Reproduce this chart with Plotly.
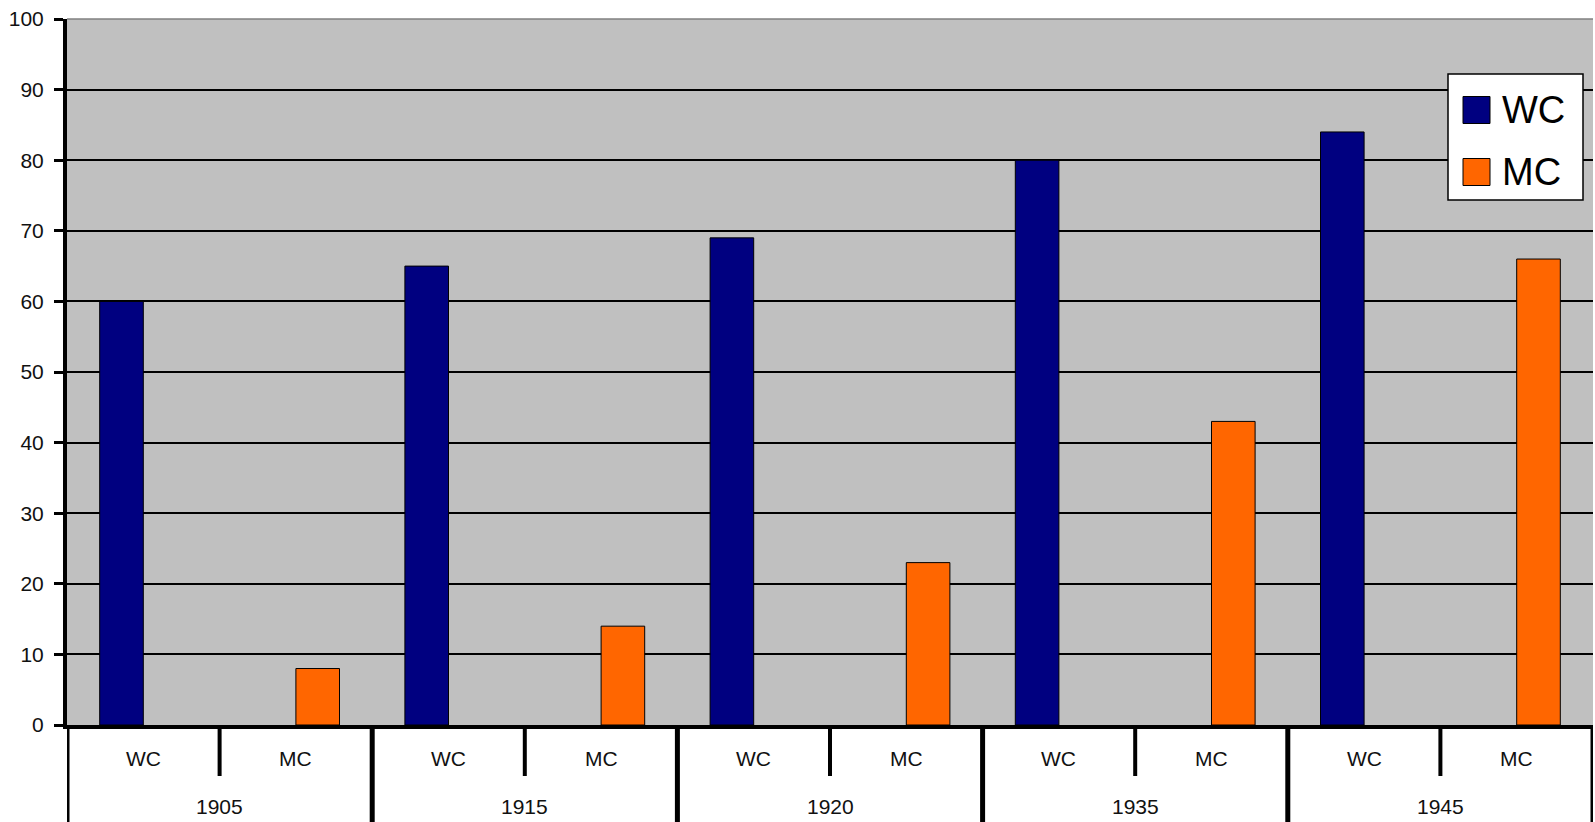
import plotly.graph_objects as go

# Data
years = ["1905", "1915", "1920", "1935", "1945"]
subcats = ["WC", "MC"]
wc_values = [60, 65, 69, 80, 84]
mc_values = [8, 14, 23, 43, 66]
y_ticks = list(range(0, 101, 10))

WC_COLOR = "#000080"
MC_COLOR = "#FF6600"
FONT = "Liberation Sans, Arial, sans-serif"

W, H = 1595, 822
M_L, M_R, M_T, M_B = 67, 2, 19, 97
PW = W - M_L - M_R
PH = H - M_T - M_B


def px_x(px):
    return (px - M_L) / PW


def px_y(py):
    return (H - M_B - py) / PH


# one slot per (year, subcategory); each series only has a value in its own slot
n_sub = len(subcats)
n_slots = len(years) * n_sub
slots = list(range(n_slots))
wc_y = [None] * n_slots
mc_y = [None] * n_slots
for i in range(len(years)):
    wc_y[i * n_sub + subcats.index("WC")] = wc_values[i]
    mc_y[i * n_sub + subcats.index("MC")] = mc_values[i]

fig = go.Figure()
fig.add_trace(go.Bar(x=slots, y=wc_y, name="WC",
                     marker=dict(color=WC_COLOR, line=dict(color="#000000", width=1))))
fig.add_trace(go.Bar(x=slots, y=mc_y, name="MC",
                     marker=dict(color=MC_COLOR, line=dict(color="#000000", width=1))))

shapes = []
annotations = []

# year group dividers (left edge through right edge)
for g in range(len(years) + 1):
    shapes.append(dict(type="line", xref="x", yref="paper",
                       x0=g * n_sub - 0.5, x1=g * n_sub - 0.5,
                       y0=0, y1=-0.2, line=dict(color="#000000", width=5)))
# short ticks between sub-categories
for g in range(len(years)):
    xm = g * n_sub + 0.5
    shapes.append(dict(type="line", xref="x", yref="paper",
                       x0=xm, x1=xm, y0=0, y1=px_y(776),
                       line=dict(color="#000000", width=4)))
# grey top border of the plot area
shapes.append(dict(type="line", xref="paper", yref="paper", x0=0, x1=1, y0=1, y1=1,
                   line=dict(color="#808080", width=1.5), layer="above"))

# sub-category and year labels
for g, yr in enumerate(years):
    for s, sc in enumerate(subcats):
        annotations.append(dict(x=g * n_sub + s, y=px_y(758), xref="x", yref="paper",
                                text=sc, showarrow=False, xanchor="center", yanchor="middle",
                                font=dict(family=FONT, size=21, color="#111111")))
    annotations.append(dict(x=g * n_sub + 0.5, y=px_y(806), xref="x", yref="paper",
                            text=yr, showarrow=False, xanchor="center", yanchor="middle",
                            font=dict(family=FONT, size=21, color="#111111")))

# legend box
shapes.append(dict(type="rect", xref="paper", yref="paper",
                   x0=px_x(1448), x1=px_x(1583), y0=px_y(200), y1=px_y(74),
                   fillcolor="#FFFFFF", line=dict(color="#000000", width=1.5), layer="above"))
legend_items = [("WC", WC_COLOR, 110), ("MC", MC_COLOR, 172)]
for label, color, cy in legend_items:
    shapes.append(dict(type="rect", xref="paper", yref="paper",
                       x0=px_x(1463), x1=px_x(1490), y0=px_y(cy + 13.5), y1=px_y(cy - 13.5),
                       fillcolor=color, line=dict(color="#000000", width=1), layer="above"))
    annotations.append(dict(x=px_x(1500), y=px_y(cy), xref="paper", yref="paper",
                            text=label, showarrow=False, xanchor="left", yanchor="middle",
                            font=dict(family=FONT, size=38, color="#000000")))

fig.update_layout(
    width=W, height=H,
    margin=dict(l=M_L, r=M_R, t=M_T, b=M_B, pad=0),
    paper_bgcolor="#FFFFFF",
    plot_bgcolor="#C0C0C0",
    barmode="group",
    bargap=1.5 / 3.5,
    bargroupgap=0,
    showlegend=False,
    shapes=shapes,
    annotations=annotations,
    xaxis=dict(range=[-0.5, n_slots - 0.5], showticklabels=False, ticks="",
               showgrid=False, zeroline=False, showline=True,
               linecolor="#000000", linewidth=4, fixedrange=True),
    yaxis=dict(range=[0, 100], tickvals=y_ticks, ticks="outside", ticklen=9,
               tickwidth=3, tickcolor="#000000", showline=True, linecolor="#000000",
               linewidth=4, showgrid=True, gridcolor="#000000", gridwidth=1.5,
               zeroline=False, ticklabelstandoff=6,
               tickfont=dict(family=FONT, size=21, color="#111111")),
)

fig.write_html("out.html")
